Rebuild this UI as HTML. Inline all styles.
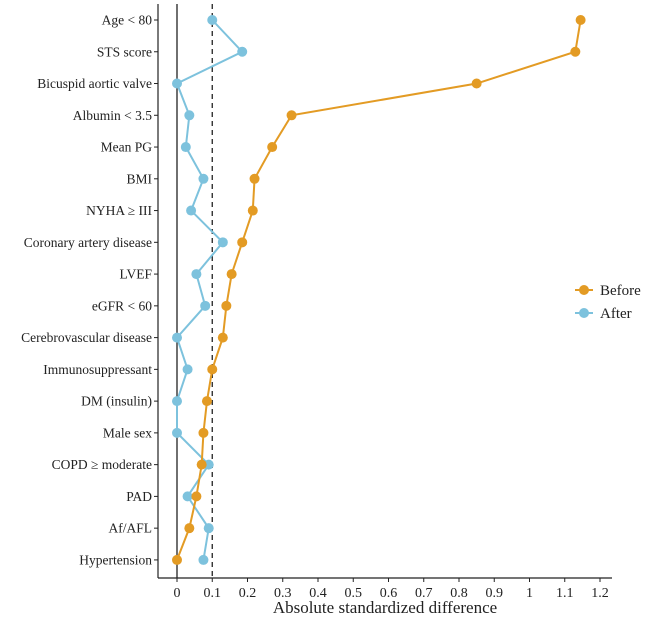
<!DOCTYPE html>
<html><head><meta charset="utf-8"><style>
body{margin:0;background:#fff}
text{font-family:"Liberation Serif",serif;fill:#222}
</style></head><body>
<svg width="650" height="618" xmlns="http://www.w3.org/2000/svg">
<g id="plot"></g>
</svg>
<script>
const categories=["Age < 80","STS score","Bicuspid aortic valve","Albumin < 3.5","Mean PG","BMI","NYHA \u2265 III","Coronary artery disease","LVEF","eGFR < 60","Cerebrovascular disease","Immunosuppressant","DM (insulin)","Male sex","COPD \u2265  moderate","PAD","Af/AFL","Hypertension"];
const beforeVals=[1.145,1.13,0.85,0.325,0.27,0.22,0.215,0.185,0.155,0.14,0.13,0.10,0.085,0.075,0.07,0.055,0.035,0.0];
const afterVals=[0.10,0.185,0.0,0.035,0.025,0.075,0.04,0.13,0.055,0.08,0.0,0.03,0.0,0.0,0.09,0.03,0.09,0.075];
const xTicks=[0,0.1,0.2,0.3,0.4,0.5,0.6,0.7,0.8,0.9,1,1.1,1.2];
const xTickLabels=["0","0.1","0.2","0.3","0.4","0.5","0.6","0.7","0.8","0.9","1","1.1","1.2"];
const NS="http://www.w3.org/2000/svg";
const g=document.getElementById('plot');
const x=v=>177+v*352.5;
const y=i=>20+i*31.76;
function el(t,a){const e=document.createElementNS(NS,t);for(const k in a)e.setAttribute(k,a[k]);g.appendChild(e);return e;}
let e;
e=el('line',{x1:158,y1:4,x2:158,y2:578,stroke:'#222','stroke-width':1.2});


e=el('line',{x1:158,y1:578,x2:612,y2:578,stroke:'#222','stroke-width':1.2});


e=el('line',{x1:x(0),y1:4,x2:x(0),y2:578,stroke:'#222','stroke-width':1.3});


e=el('line',{x1:x(0.1),y1:4,x2:x(0.1),y2:578,stroke:'#222','stroke-width':1.3,'stroke-dasharray':'5,4'});


xTicks.forEach((t,i)=>{
 e=el('line',{x1:x(t),y1:578,x2:x(t),y2:582,stroke:'#222'});
 
 
 e=el('text',{x:x(t),y:597,'text-anchor':'middle','font-size':14});
 e.textContent=xTickLabels[i];
 
 
});
categories.forEach((c,i)=>{
 e=el('line',{x1:154,y1:y(i),x2:158,y2:y(i),stroke:'#222'});
 
 
 e=el('text',{x:152,y:y(i)+4.5,'text-anchor':'end','font-size':13.5});
 e.textContent=c;
 
 
});
function series(vals,col,name){
 e=el('polyline',{points:vals.map((v,i)=>x(v)+','+y(i)).join(' '),fill:'none',stroke:col,'stroke-width':2});
 
 
 vals.forEach((v,i)=>{
  e=el('circle',{cx:x(v),cy:y(i),r:5,fill:col});
  
  
 });
}
series(afterVals,'#7DC2DD','after');
series(beforeVals,'#E39B24','before');
e=el('text',{x:385,y:613,'text-anchor':'middle','font-size':17});
e.textContent='Absolute standardized difference';


[['Before','#E39B24',290],['After','#7DC2DD',313]].forEach(([n,c,yy])=>{
 e=el('line',{x1:575,y1:yy,x2:593,y2:yy,stroke:c,'stroke-width':2});
 
 
 e=el('circle',{cx:584,cy:yy,r:5,fill:c});
 
 
 e=el('text',{x:600,y:yy+5,'font-size':15});
 e.textContent=n;
 
 
});
</script>
</body></html>
